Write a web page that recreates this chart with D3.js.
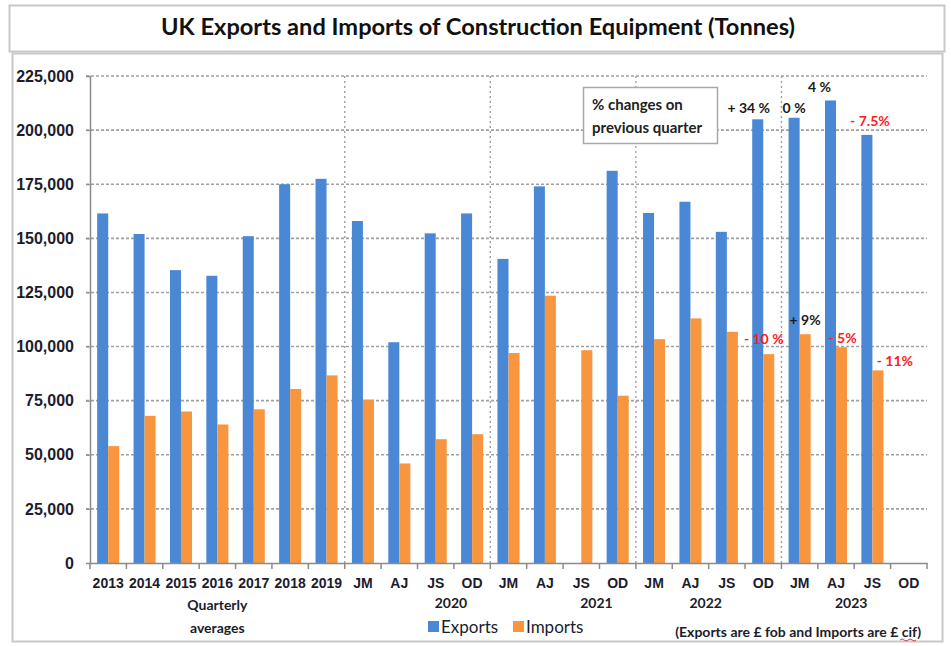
<!DOCTYPE html>
<html>
<head>
<meta charset="utf-8">
<script src="https://cdn.jsdelivr.net/npm/d3@7"></script>
<style>
  body { margin: 0; background: #fff; }
  svg { font-family: Lato, "Open Sans", sans-serif; }
</style>
</head>
<body>
<svg id="canvas" width="951" height="646"></svg>
<script>
// ---------------------------------------------------------------- //
// Data

var periods = ['2013','2014','2015','2016','2017','2018','2019',
  '2020JM','2020AJ','2020JS','2020OD','2021JM','2021AJ','2021JS','2021OD',
  '2022JM','2022AJ','2022JS','2022OD','2023JM','2023AJ','2023JS','2023OD'];
var tick_labels = ['2013','2014','2015','2016','2017','2018','2019',
  'JM','AJ','JS','OD','JM','AJ','JS','OD','JM','AJ','JS','OD','JM','AJ','JS','OD'];
var exports_t = [161500, 152000, 135300, 132700, 151000, 175000, 177500,
  158000, 102000, 152300, 161500, 140500, 174000, null, 181200,
  161700, 166900, 153000, 205000, 205700, 213700, 197800, null];
var imports_t = [54000, 68000, 70000, 64000, 71000, 80400, 86700,
  75500, 46000, 57200, 59500, 97000, 123500, 98300, 77300,
  103400, 113000, 106800, 96500, 105700, 99700, 89000, null];
var y_ticks = [0, 25000, 50000, 75000, 100000, 125000, 150000, 175000, 200000, 225000];
var year_groups = [ { year: '2020', at: '2020OD' }, { year: '2021', at: '2021OD' },
  { year: '2022', at: '2022JS' }, { year: '2023', at: '2023JS' } ];
var dividers = ['2020JM', '2021JM', '2022JM', '2023JM'];
// % change notes: period, which bar, text
var notes = [
  { at: '2022OD', bar: 'exp', text: '+ 34 %', red: false },
  { at: '2023JM', bar: 'exp', text: '0 %', red: false },
  { at: '2023AJ', bar: 'exp', text: '4 %', red: false },
  { at: '2023JS', bar: 'exp', text: '- 7.5%', red: true },
  { at: '2023JM', bar: 'imp', text: '+ 9%', red: false },
  { at: '2022JS', bar: 'imp', text: '- 10 %', red: true },
  { at: '2023AJ', bar: 'imp', text: '- 5%', red: true },
  { at: '2023JS', bar: 'imp', text: '- 11%', red: true }
];

var blue = '#4a88d6', orange = '#f7963f';

// ---------------------------------------------------------------- //
// Frames and title

var svg = d3.select('#canvas');

svg.append('rect').attr('x', 9.5).attr('y', 5.5).attr('width', 935).attr('height', 46)
  .style('fill', 'white').style('stroke', '#c8c8c8').style('stroke-width', 2);
svg.append('rect').attr('x', 12.5).attr('y', 53.5).attr('width', 930).attr('height', 588)
  .style('fill', 'white').style('stroke', '#c8c8c8').style('stroke-width', 2);

svg.append('text').attr('x', 478).attr('y', 35).attr('text-anchor', 'middle')
  .attr('textLength', 634).attr('lengthAdjust', 'spacingAndGlyphs')
  .style('font-size', '22px').style('font-weight', 'bold').style('fill', '#111')
  .text('UK Exports and Imports of Construction Equipment (Tonnes)');

// ---------------------------------------------------------------- //
// Scales

var x = d3.scaleBand().domain(periods).range([90, 927]);
var xb = d3.scaleBand().domain(['exp', 'imp']).range([0, x.step()]).paddingOuter(0.65);
var y = d3.scaleLinear().domain([0, 225000]).range([563, 76]);

var plot = svg.append('g');

// horizontal grid
plot.selectAll('.grid').data(y_ticks.slice(1)).enter().append('line')
  .attr('x1', 86).attr('x2', 927)
  .attr('y1', function(d){ return y(d); }).attr('y2', function(d){ return y(d); })
  .style('stroke', '#a0a0a0').style('stroke-width', 1.6).style('stroke-dasharray', '3,2');

// vertical dividers between years
plot.selectAll('.div').data(dividers).enter().append('line')
  .attr('x1', function(d){ return x(d); }).attr('x2', function(d){ return x(d); })
  .attr('y1', y(225000)).attr('y2', y(0))
  .style('stroke', '#a0a0a0').style('stroke-width', 1.4).style('stroke-dasharray', '2,3');

// bars
var rows = periods.map(function(p, i){ return { p: p, exp: exports_t[i], imp: imports_t[i] }; });

plot.selectAll('.exp').data(rows.filter(function(d){ return d.exp != null; })).enter().append('rect')
  .attr('x', function(d){ return x(d.p) + xb('exp'); }).attr('width', xb.bandwidth())
  .attr('y', function(d){ return y(d.exp); }).attr('height', function(d){ return y(0) - y(d.exp); })
  .style('fill', blue);

plot.selectAll('.imp').data(rows.filter(function(d){ return d.imp != null; })).enter().append('rect')
  .attr('x', function(d){ return x(d.p) + xb('imp'); }).attr('width', xb.bandwidth())
  .attr('y', function(d){ return y(d.imp); }).attr('height', function(d){ return y(0) - y(d.imp); })
  .style('fill', orange);

// axes
var yAxis = plot.append('g').attr('transform', 'translate(90,0)')
  .call(d3.axisLeft(y).tickValues(y_ticks).tickSize(4).tickPadding(12).tickFormat(d3.format(',')));
yAxis.select('.domain').style('stroke', '#8a8a8a').style('stroke-width', 1.5);
yAxis.selectAll('.tick line').style('stroke', '#8a8a8a');
yAxis.selectAll('.tick text').style('font-size', '16px').style('font-weight', 'bold').style('fill', '#1c1c2c');

var xAxis = plot.append('g').attr('transform', 'translate(0,563)')
  .call(d3.axisBottom(x).tickSize(0).tickPadding(15).tickFormat(function(d, i){ return tick_labels[i]; }));
xAxis.select('.domain').style('stroke', '#8a8a8a').style('stroke-width', 1.5);
xAxis.selectAll('.tick text').style('font-size', '14px').style('font-weight', 'bold').style('fill', '#1c1c2c');

// boundary ticks
xAxis.selectAll('.bt').data(periods.concat(['end'])).enter().append('line')
  .attr('x1', function(d, i){ return 90 + i * x.step(); }).attr('x2', function(d, i){ return 90 + i * x.step(); })
  .attr('y1', 0).attr('y2', 6).style('stroke', '#8a8a8a').style('stroke-width', 1.5);

// second row labels
var lab = { 'font-size': '14px', 'font-weight': 'bold', 'fill': '#1c1c2c' };
function styled(sel){ for(var k in lab) sel.style(k, lab[k]); return sel; }

styled(plot.append('text').attr('x', x('2016') + x.bandwidth()/2).attr('y', 610).attr('text-anchor', 'middle').text('Quarterly'));
styled(plot.append('text').attr('x', x('2016') + x.bandwidth()/2).attr('y', 633).attr('text-anchor', 'middle').text('averages'));
year_groups.forEach(function(g){
  styled(plot.append('text').attr('x', x(g.at) - 3).attr('y', 608).attr('text-anchor', 'middle').text(g.year));
});

// ---------------------------------------------------------------- //
// Notes

var box = svg.append('g');
box.append('rect').attr('x', 583.5).attr('y', 87.5).attr('width', 134).attr('height', 56)
  .style('fill', 'white').style('stroke', '#a8a8a8').style('stroke-width', 1.5);
box.append('text').attr('x', 592).attr('y', 110).style('font-size', '15px').style('font-weight', 'bold').style('fill', '#222').text('% changes on');
box.append('text').attr('x', 592).attr('y', 133).style('font-size', '15px').style('font-weight', 'bold').style('fill', '#222').text('previous quarter');

var note_pos = {
  '+ 34 %': [-9, -6, 'middle'], '0 %': [0, -5, 'middle'], '4 %': [-11, -8, 'middle'],
  '- 7.5%': [3, -9, 'middle'], '+ 9%': [0, -9, 'middle'], '- 10 %': [6, 12, 'start'],
  '- 5%': [1, -4, 'middle'], '- 11%': [17, -4, 'middle']
};
notes.forEach(function(n){
  var i = periods.indexOf(n.at);
  var v = n.bar == 'exp' ? exports_t[i] : imports_t[i];
  var off = note_pos[n.text];
  var cx = x(n.at) + xb(n.bar) + (off[2] == 'middle' ? xb.bandwidth()/2 : xb.bandwidth());
  svg.append('text').attr('x', cx + off[0]).attr('y', y(v) + off[1]).attr('text-anchor', off[2])
    .style('font-size', '14px').style('font-weight', 'bold')
    .style('fill', n.red ? '#ff2020' : '#1a1a1a').text(n.text);
});

// ---------------------------------------------------------------- //
// Legend and footnote

var legend = svg.append('g').attr('transform', 'translate(428,621)');
[{ t: 'Exports', c: blue, x: 0 }, { t: 'Imports', c: orange, x: 85 }].forEach(function(l){
  legend.append('rect').attr('x', l.x).attr('y', 0).attr('width', 11).attr('height', 11).style('fill', l.c);
  legend.append('text').attr('x', l.x + 13).attr('y', 12).style('font-size', '17px').style('fill', '#1c1c2c').text(l.t);
});

var foot = svg.append('text').attr('x', 921).attr('y', 637).attr('text-anchor', 'end')
  .style('font-size', '14px').style('font-weight', 'bold').style('fill', '#1c1c2c')
  .text('(Exports are £ fob and Imports are £ cif)');
var fb = foot.node().getBBox();
svg.append('path').attr('d', 'M' + (fb.x + fb.width - 21) + ',640 q2,-2 4,0 t4,0 t4,0 t4,0')
  .style('fill', 'none').style('stroke', '#e03030').style('stroke-width', 1);
</script>
</body>
</html>
